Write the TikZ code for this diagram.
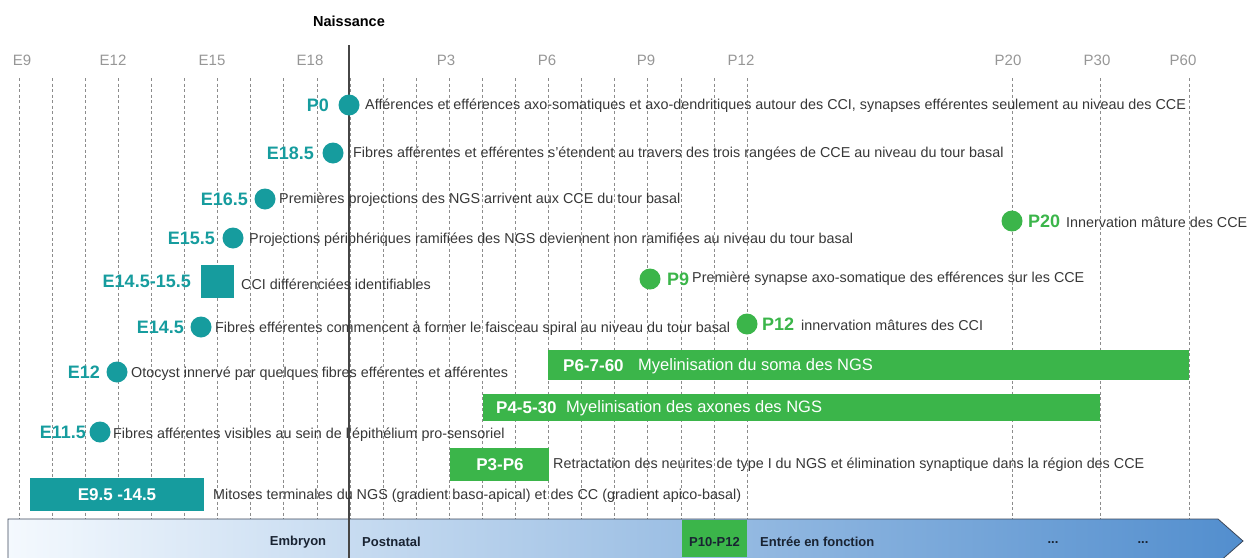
\documentclass[tikz,border=0pt]{standalone}
\usepackage{fontspec}
\setmainfont{Liberation Sans}
\definecolor{teal}{RGB}{22,156,158}
\definecolor{grn}{RGB}{59,181,74}
\definecolor{desccol}{RGB}{55,55,55}
\definecolor{tickcol}{RGB}{150,150,150}
\definecolor{gridcol}{RGB}{140,140,140}
\definecolor{birthcol}{RGB}{70,70,70}
\definecolor{arrowedge}{RGB}{60,72,90}
\definecolor{arrowleft}{RGB}{244,249,254}
\definecolor{arrowright}{RGB}{82,142,206}
\definecolor{arrowtext}{RGB}{25,35,50}
\begin{document}
\begin{tikzpicture}[x=1pt,y=-1pt,
  gridline/.style={draw=gridcol, line width=0.6pt, dash pattern=on 3pt off 2.5pt},
  ticklab/.style={text=tickcol, font=\fontsize{15}{17}\selectfont, inner sep=0},
  tdot/.style={circle, fill=teal, inner sep=0, minimum size=21},
  gdot/.style={circle, fill=grn, inner sep=0, minimum size=21},
  tlab/.style={text=teal, font=\bfseries\fontsize{18}{20}\selectfont, inner sep=0, anchor=east},
  glab/.style={text=grn, font=\bfseries\fontsize{18}{20}\selectfont, inner sep=0, anchor=west},
  desc/.style={text=desccol, font=\fontsize{14.35}{16}\selectfont, inner sep=0, anchor=west},
  barlab/.style={text=white, font=\bfseries\fontsize{17}{19}\selectfont, inner sep=0},
  bartext/.style={text=white, font=\fontsize{16.5}{19}\selectfont, inner sep=0, anchor=west},
  gbar/.style={fill=grn, inner sep=0, anchor=north west},
  tbar/.style={fill=teal, inner sep=0, anchor=north west},
  arrtext/.style={text=arrowtext, font=\bfseries\fontsize{13}{15}\selectfont, inner sep=0}
]
\useasboundingbox (0,0) rectangle (1252,557);
\clip (0,0) rectangle (1252,557);

% grid
\foreach \i in {0,...,22} \draw[gridline] ({19+\i*33.09},78) -- ({19+\i*33.09},519);
\foreach \x in {1012,1100,1189} \draw[gridline] (\x,78) -- (\x,519);

% tick labels
\node[ticklab] (tE9) at (22,60) {E9};
\node[ticklab] (tE12) at (113,60) {E12};
\node[ticklab] (tE15) at (212,60) {E15};
\node[ticklab] (tE18) at (310,60) {E18};
\node[ticklab] (tP3) at (446,60) {P3};
\node[ticklab] (tP6) at (547,60) {P6};
\node[ticklab] (tP9) at (646,60) {P9};
\node[ticklab] (tP12) at (741,60) {P12};
\node[ticklab] (tP20) at (1008,60) {P20};
\node[ticklab] (tP30) at (1097,60) {P30};
\node[ticklab] (tP60) at (1183,60) {P60};

% bottom arrow
\path[draw=arrowedge, line width=0.8pt, left color=arrowleft, right color=arrowright]
  (8,519) -- (1218,519) -- (1243,541) -- (1218,563) -- (8,563) -- cycle;
\fill[grn] (682,519.5) rectangle (747,557);
\node[arrtext] (emb) at (298,542) {Embryon};
\node[arrtext, anchor=west] (post) at (362,542) {Postnatal};
\node[arrtext] (p1012) at (714.5,542) {P10-P12};
\node[arrtext, anchor=west] (entree) at (760,542) {Entrée en fonction};
\node[arrtext] (dots1) at (1053,543) {...};
\node[arrtext] (dots2) at (1143,543) {...};

% naissance
\node[font=\bfseries\fontsize{14.5}{16}\selectfont, inner sep=0] (naiss) at (349,21) {Naissance};
\coordinate (bTop) at (349,45);
\coordinate (bBot) at (349,560);
\draw[birthcol, line width=2pt] (bTop) -- (bBot);

% P0
\node[tdot] (p0) at (349,105) {};
\node[tlab] (p0l) at (329,105) {P0};
\node[desc] (p0d) at (365,106) {Afférences et efférences axo-somatiques et axo-dendritiques autour des CCI, synapses efférentes seulement au niveau des CCE};

% E18.5
\node[tdot] (e185) at (333,153) {};
\node[tlab] (e185l) at (314,153) {E18.5};
\node[desc] (e185d) at (353,154) {Fibres afférentes et efférentes s'étendent au travers des trois rangées de CCE au niveau du tour basal};

% E16.5
\node[tdot] (e165) at (265,199) {};
\node[tlab] (e165l) at (248,199) {E16.5};
\node[desc] (e165d) at (279,200) {Premières projections des NGS arrivent aux CCE du tour basal};

% E15.5
\node[tdot] (e155) at (233,238) {};
\node[tlab] (e155l) at (215,238) {E15.5};
\node[desc] (e155d) at (249,240) {Projections périphériques ramifiées des NGS deviennent non ramifiées au niveau du tour basal};

% E14.5-15.5
\node[fill=teal, inner sep=0, minimum size=33] (e1415) at (217.5,281.5) {};
\node[tlab] (e1415l) at (191,281) {E14.5-15.5};
\node[desc] (e1415d) at (241,284) {CCI différenciées identifiables};

% E14.5
\node[tdot] (e145) at (201,327) {};
\node[tlab] (e145l) at (184,327) {E14.5};
\node[desc] (e145d) at (215,329) {Fibres efférentes commencent à former le faisceau spiral au niveau du tour basal};

% E12
\node[tdot] (e12) at (117,372) {};
\node[tlab] (e12l) at (100,372) {E12};
\node[desc] (e12d) at (131,374) {Otocyst innervé par quelques fibres efférentes et afférentes};

% E11.5
\node[tdot] (e115) at (100,432) {};
\node[tlab] (e115l) at (86,432) {E11.5};
\node[desc] (e115d) at (113,435) {Fibres afférentes visibles au sein de l'épithélium pro-sensoriel};

% E9.5-14.5
\node[tbar, minimum width=174, minimum height=33] (e9514) at (30,478) {};
\node[barlab] (e9514l) at (117,495) {E9.5 -14.5};
\node[desc] (e9514d) at (213,496) {Mitoses terminales du NGS (gradient baso-apical) et des CC (gradient apico-basal)};

% P9
\node[gdot] (p9) at (650,279) {};
\node[glab] (p9l) at (667,279) {P9};
\node[desc] (p9d) at (692,279) {Première synapse axo-somatique des efférences sur les CCE};

% P12
\node[gdot] (p12) at (747,324) {};
\node[glab] (p12l) at (762,324) {P12};
\node[desc] (p12d) at (801,325) {innervation mâtures des CCI};

% P20
\node[gdot] (p20) at (1012,221) {};
\node[glab] (p20l) at (1028,221) {P20};
\node[desc] (p20d) at (1066,222) {Innervation mâture des CCE};

% P6-7-60
\node[gbar, minimum width=641, minimum height=30] (p6760) at (548,350) {};
\node[barlab, anchor=west] (p6760l) at (563,366) {P6-7-60};
\node[bartext] (p6760d) at (638,366) {Myelinisation du soma des NGS};

% P4-5-30
\node[gbar, minimum width=617, minimum height=27] (p4530) at (483,394) {};
\node[barlab, anchor=west] (p4530l) at (496,408) {P4-5-30};
\node[bartext] (p4530d) at (566,408) {Myelinisation des axones des NGS};

% P3-P6
\node[gbar, minimum width=99, minimum height=33] (p3p6) at (450,448) {};
\node[barlab] (p3p6l) at (500,465) {P3-P6};
\node[desc] (p3p6d) at (553,465) {Retractation des neurites de type I du NGS et élimination synaptique dans la région des CCE};

\end{tikzpicture}
\end{document}
